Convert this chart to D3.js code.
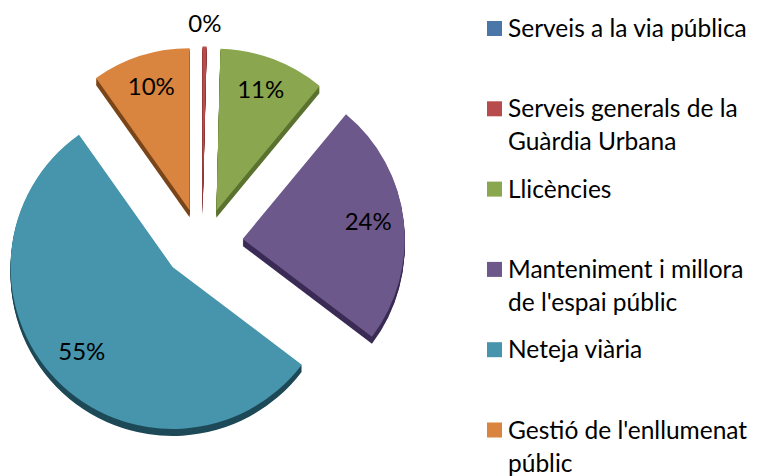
<!DOCTYPE html>
<html>
<head>
<meta charset="utf-8">
<script src="https://cdn.jsdelivr.net/npm/d3@7"></script>
<style>
  body { margin: 0; background: #fff; }
  text { font-family: Lato, "Open Sans", sans-serif; fill: #000; }
</style>
</head>
<body>
<div class="canvas"></div>
<script>
const width = 757;
const height = 476;

// data
const categories = [
  "Serveis a la via pública",
  "Serveis generals de la\nGuàrdia Urbana",
  "Llicències",
  "Manteniment i millora\nde l'espai públic",
  "Neteja viària",
  "Gestió de l'enllumenat\npúblic"
];
const values = [0, 0.4, 10.6, 24.3, 54.9, 9.8];
const labels = ["0%", "0%", "11%", "24%", "55%", "10%"];

// colours
const faceColors = ["#4a76a8", "#b84c4d", "#8aa64f", "#6d588c", "#4695ac", "#d9843f"];
const sideColors = ["#2a4666", "#7a2a2a", "#5b7330", "#3b2c55", "#1e4a58", "#7a4519"];

const svg = d3.select(".canvas")
  .append("svg")
  .attr("width", width)
  .attr("height", height);

// pie setup
const cx = 202, cy = 243;
const radius = 162;
const explode = 41;
const tilt = 0.84;   // vertical squash of the explode offset
const depth = 7;

const pie = d3.pie().sort(null).value(d => d);
const arcs = pie(values);
const shown = arcs.filter(d => d.value > 0);

const arc = d3.arc().innerRadius(0).outerRadius(radius);

const midAngle = d => (d.startAngle + d.endAngle) / 2;
const offset = d => {
  const mid = midAngle(d);
  return [cx + explode * Math.sin(mid), cy - explode * Math.cos(mid) * tilt];
};

const graph = svg.append("g");

// side walls (stacked copies shifted down)
const sides = graph.append("g");
d3.range(depth, 0, -1).forEach(k => {
  sides.selectAll(null)
    .data(shown)
    .enter()
    .append("path")
    .attr("d", arc)
    .attr("fill", d => sideColors[d.index])
    .attr("transform", d => {
      const [x, y] = offset(d);
      return `translate(${x}, ${y + k})`;
    });
});

// top faces
graph.append("g")
  .selectAll("path")
  .data(shown)
  .enter()
  .append("path")
  .attr("d", arc)
  .attr("fill", d => faceColors[d.index])
  .attr("transform", d => {
    const [x, y] = offset(d);
    return `translate(${x}, ${y})`;
  });

// percent labels
const labelR = d => d.value < 2 ? radius + 20 : radius * 0.78;

graph.append("g")
  .selectAll("text")
  .data(shown)
  .enter()
  .append("text")
  .attr("text-anchor", "middle")
  .attr("dy", "0.35em")
  .style("font-size", "24px")
  .attr("x", d => offset(d)[0] + labelR(d) * Math.sin(midAngle(d)))
  .attr("y", d => offset(d)[1] - labelR(d) * Math.cos(midAngle(d)) - 3)
  .text(d => labels[d.index]);

// legend
const legend = svg.append("g")
  .attr("transform", "translate(487, 0)");

const item = legend.selectAll("g")
  .data(categories)
  .enter()
  .append("g")
  .attr("transform", (d, i) => `translate(0, ${37 + i * 80.3})`);

item.append("rect")
  .attr("x", 0)
  .attr("y", -16)
  .attr("width", 15)
  .attr("height", 15)
  .attr("fill", (d, i) => faceColors[i]);

item.append("text")
  .attr("x", 21)
  .style("font-size", "24.5px")
  .selectAll("tspan")
  .data(d => d.split("\n"))
  .enter()
  .append("tspan")
  .attr("x", 21)
  .attr("dy", (d, i) => i === 0 ? 0 : 33)
  .text(d => d);
</script>
</body>
</html>
